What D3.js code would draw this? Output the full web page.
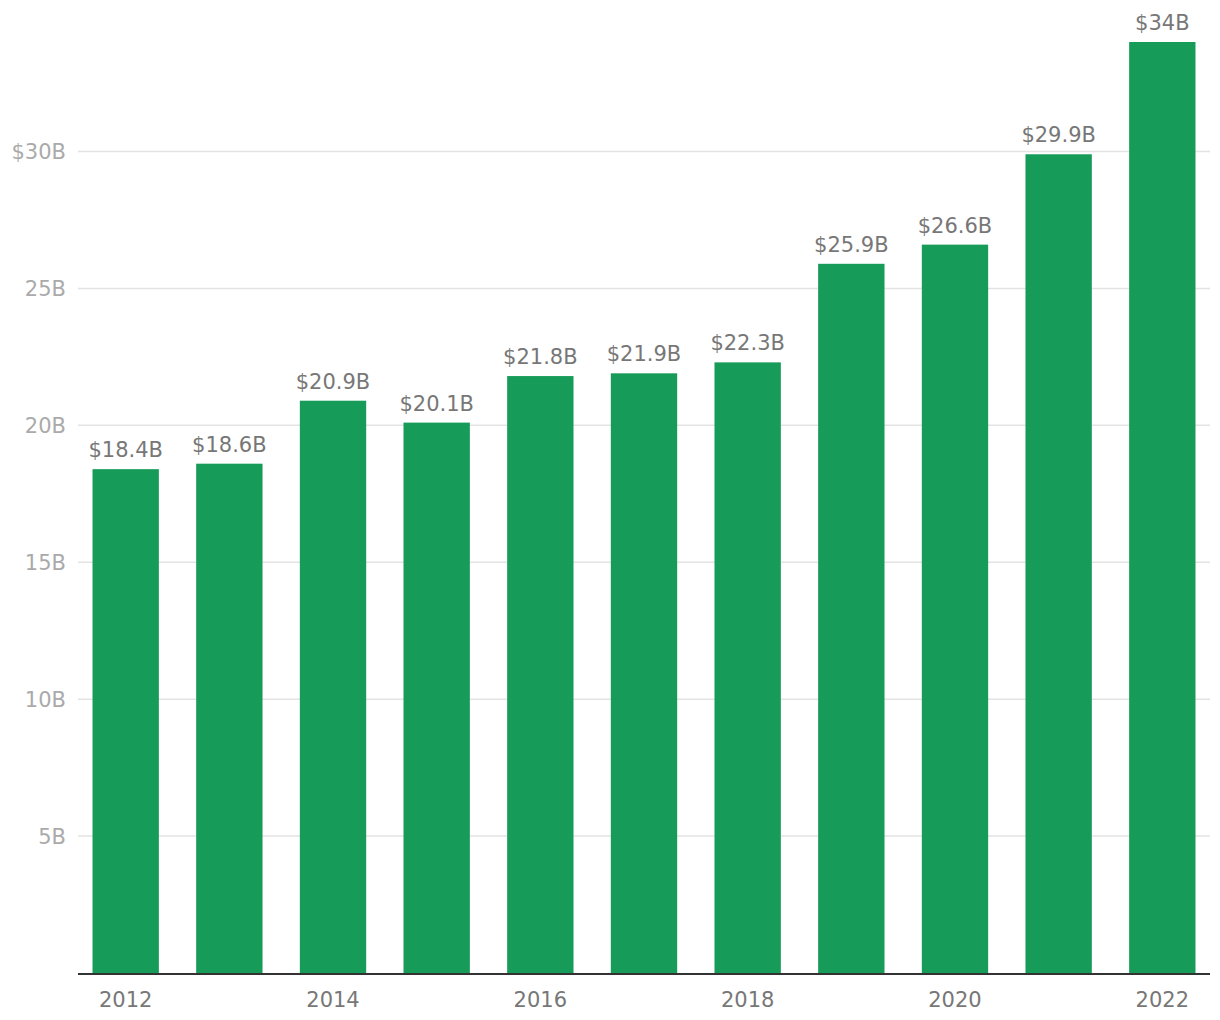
<!DOCTYPE html>
<html><head><meta charset="utf-8">
<script src="https://cdn.jsdelivr.net/npm/d3@7/dist/d3.min.js"></script>
<style>
body{margin:0;background:#fff;}
svg text{font-family:"DejaVu Sans",sans-serif;}
</style></head>
<body><svg id="c" width="1220" height="1020"></svg>
<script>
const years = [2012,2013,2014,2015,2016,2017,2018,2019,2020,2021,2022];
const values = [18.4,18.6,20.9,20.1,21.8,21.9,22.3,25.9,26.6,29.9,34];
const valueLabels = ["$18.4B","$18.6B","$20.9B","$20.1B","$21.8B","$21.9B","$22.3B","$25.9B","$26.6B","$29.9B","$34B"];
const yTicks = [5,10,15,20,25,30];
const yTickLabels = ["5B","10B","15B","20B","25B","$30B"];
const xTickYears = [2012,2014,2016,2018,2020,2022];

(function(){
const svg = d3.select("#c");
const mLeft = 78, mRight = 1210, mBottom = 973, mTop = 42;
const y = d3.scaleLinear().domain([0,34]).range([mBottom, mTop]);
const x = d3.scaleBand().domain(years).range([mLeft,mRight]).paddingInner(0.36).paddingOuter(0.14);

const g = svg.append("g");
g.selectAll("line.grid").data(yTicks).join("line")
  .attr("x1",mLeft).attr("x2",mRight)
  .attr("y1",d=>y(d)).attr("y2",d=>y(d))
  .attr("stroke","#e3e3e3").attr("stroke-width",1.5);
g.selectAll("text.ylab").data(yTicks).join("text")
  .attr("x",66).attr("y",d=>y(d)).attr("dy","0.36em")
  .attr("text-anchor","end").attr("fill","#aaaaaa").attr("font-size",21)
  .text((d,i)=>yTickLabels[i]);

g.selectAll("rect.bar").data(values).join("rect")
  .attr("x",(d,i)=>x(years[i])).attr("width",x.bandwidth())
  .attr("y",d=>y(d)).attr("height",d=>mBottom-y(d))
  .attr("fill","#169b58");

g.selectAll("text.val").data(values).join("text")
  .attr("x",(d,i)=>x(years[i])+x.bandwidth()/2).attr("y",d=>y(d)-12)
  .attr("text-anchor","middle").attr("fill","#777777").attr("font-size",21)
  .text((d,i)=>valueLabels[i]);

g.append("line").attr("x1",mLeft).attr("x2",mRight).attr("y1",mBottom+1).attr("y2",mBottom+1)
  .attr("stroke","#333").attr("stroke-width",2);

g.selectAll("text.xlab").data(xTickYears).join("text")
  .attr("x",d=>x(d)+x.bandwidth()/2).attr("y",1007)
  .attr("text-anchor","middle").attr("fill","#777777").attr("font-size",21)
  .text(d=>d);
})();
</script></body></html>
